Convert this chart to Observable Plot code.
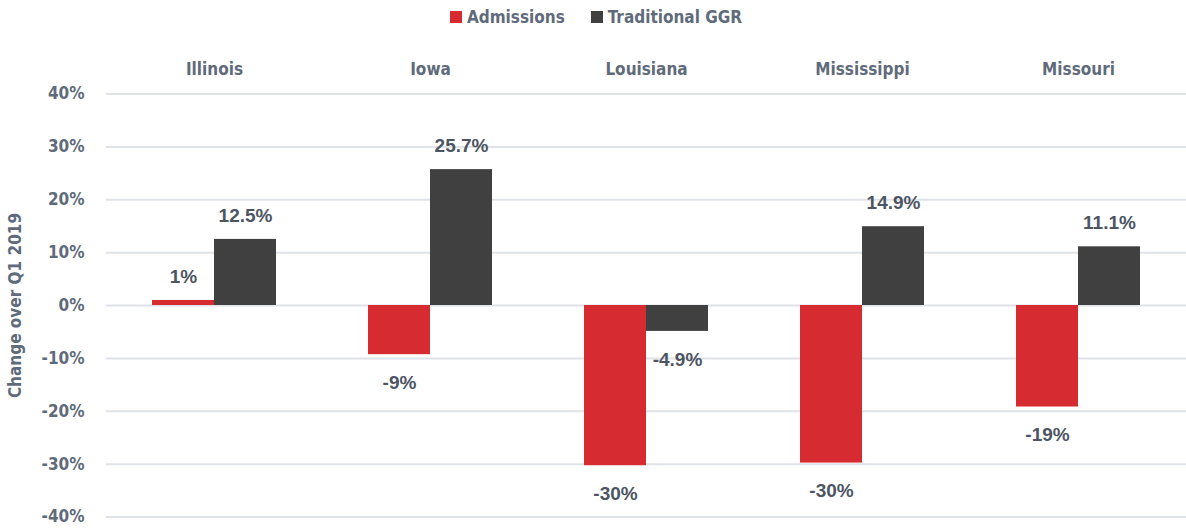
<!DOCTYPE html>
<html>
<head>
<meta charset="utf-8">
<script src="https://cdn.jsdelivr.net/npm/d3@7"></script>
<script src="https://cdn.jsdelivr.net/npm/@observablehq/plot@0.6"></script>
<style>
  html, body { margin: 0; padding: 0; background: #ffffff; }
  #wrap { width: 1186px; height: 528px; position: relative; }
  #legend { height: 34px; display: flex; justify-content: center; align-items: center; gap: 26px;
    font-family: "Liberation Sans Narrow", "DejaVu Sans Condensed", "Arial Narrow", sans-serif;
    font-weight: bold; font-size: 17px; color: #5f6b7a; padding-left: 6px; box-sizing: border-box; }
  .item { display: flex; align-items: center; gap: 5px; }
  .sw { width: 12px; height: 12px; display: inline-block; }
</style>
</head>
<body>
<div id="wrap">
  <div id="legend"></div>
  <div id="chart"></div>
</div>
<script>
const states = ["Illinois", "Iowa", "Louisiana", "Mississippi", "Missouri"];
const series = ["Admissions", "Traditional GGR"];
const admissions = [0.95, -9.3, -30.3, -29.8, -19.2];
const admissionLabels = ["1%", "-9%", "-30%", "-30%", "-19%"];
const ggr = [12.5, 25.7, -4.9, 14.9, 11.1];
const ggrLabels = ["12.5%", "25.7%", "-4.9%", "14.9%", "11.1%"];
const yTicks = [-40, -30, -20, -10, 0, 10, 20, 30, 40];
const colors = ["#d62b30", "#404040"];

const data = states.flatMap((s, i) => [
  {state: s, series: series[0], value: admissions[i], label: admissionLabels[i]},
  {state: s, series: series[1], value: ggr[i], label: ggrLabels[i]}
]);

// legend
const legend = document.getElementById("legend");
series.forEach((s, i) => {
  const it = document.createElement("div");
  it.className = "item";
  const sw = document.createElement("span");
  sw.className = "sw";
  sw.style.background = colors[i];
  const t = document.createElement("span");
  t.textContent = s;
  it.appendChild(sw); it.appendChild(t);
  legend.appendChild(it);
});

const narrow = "Liberation Sans Narrow, DejaVu Sans Condensed, Arial Narrow, sans-serif";
const valueFont = "Liberation Sans, Arial, Helvetica, sans-serif";

const chart = Plot.plot({
  width: 1186,
  height: 494,
  marginLeft: 105,
  marginRight: 0,
  marginTop: 59.5,
  marginBottom: 11.5,
  style: {fontFamily: narrow, color: "#5f6b7a", background: "transparent"},
  fx: {domain: states, padding: 0, label: null},
  x: {domain: series, paddingInner: 0, paddingOuter: 0.73, axis: null},
  y: {domain: [-40, 40], label: "Change over Q1 2019"},
  color: {domain: series, range: colors},
  marks: [
    Plot.ruleY(yTicks, {stroke: "#dfe2e7", strokeWidth: 2}),
    Plot.barY(data, {fx: "state", x: "series", y: "value", fill: "series"}),
    Plot.text(data.filter(d => d.value >= 0), {
      fx: "state", x: "series", y: "value", text: "label", dy: -24,
      fontFamily: valueFont, fontWeight: "bold", fontSize: 19, fill: "#4d5563"
    }),
    Plot.text(data.filter(d => d.value < 0), {
      fx: "state", x: "series", y: "value", text: "label", dy: 28,
      fontFamily: valueFont, fontWeight: "bold", fontSize: 19, fill: "#4d5563"
    }),
    Plot.axisY({
      ticks: yTicks, tickFormat: d => d + "%", tickSize: 0, tickPadding: 22,
      fontSize: 17, fontWeight: "bold", fill: "#5f6b7a",
      label: "Change over Q1 2019", labelAnchor: "center", labelArrow: "none", labelOffset: 98
    }),
    Plot.axisFx({anchor: "top", tickSize: 0, tickPadding: 19, fontSize: 17, fontWeight: "bold", fill: "#5f6b7a", label: null})
  ]
});
document.getElementById("chart").appendChild(chart);
</script>
</body>
</html>
